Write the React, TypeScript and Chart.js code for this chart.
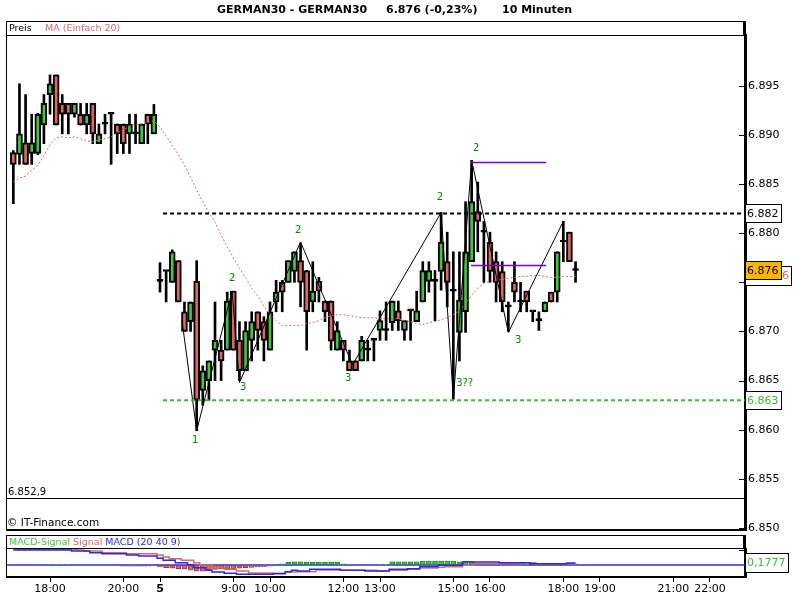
import React, { useEffect, useRef } from "react";
import { Chart, registerables } from "chart.js";

Chart.register(...registerables);

// ---------------- data (one entry per 10-minute bar; day 4 17:00 .. day 5 18:20) ----------------
const open = [
  6888.2, 6888.0, 6889.2, 6888.1, 6888.1, 6891.0,
  6894.1, 6896.1, 6893.2, 6893.2, 6892.1, 6892.1,
  6891.0, 6893.2, 6889.1, 6891.1, 6892.1, 6891.1,
  6891.1, 6890.1, 6890.1, 6889.1, 6892.1, 6890.1,
  6875.1, 6876.1, 6875.0, 6877.2, 6872.0, 6871.0,
  6875.1, 6864.0, 6865.0, 6868.1, 6868.1, 6868.1,
  6874.1, 6869.1, 6866.0, 6869.1, 6872.0, 6871.0,
  6868.1, 6873.0, 6875.0, 6875.0, 6876.1, 6877.2,
  6876.2, 6873.0, 6875.1, 6873.1, 6873.1, 6868.1,
  6869.1, 6867.0, 6867.0, 6867.0, 6868.1, 6869.1,
  6870.1, 6870.1, 6870.9, 6872.1, 6870.1, 6872.1,
  6871.0, 6873.0, 6875.1, 6875.1, 6876.1, 6877.1,
  6874.1, 6869.9, 6872.0, 6877.1, 6882.2, 6880.1,
  6879.1, 6877.1, 6876.1, 6872.5, 6875.0, 6873.0,
  6874.1, 6872.0, 6871.1, 6872.0, 6874.0, 6874.0,
  6879.1, 6880.1, 6876.2,
];
const high = [
  6888.4, 6895.2, 6894.1, 6892.1, 6892.2, 6894.1,
  6896.1, 6896.1, 6894.1, 6893.2, 6893.2, 6893.2,
  6893.2, 6893.2, 6891.1, 6892.1, 6892.1, 6891.1,
  6891.1, 6892.1, 6892.1, 6891.1, 6892.1, 6893.1,
  6877.0, 6876.1, 6878.3, 6877.2, 6873.0, 6873.0,
  6877.2, 6866.5, 6867.0, 6873.0, 6869.1, 6874.0,
  6874.1, 6871.0, 6871.0, 6872.0, 6872.0, 6871.5,
  6873.0, 6875.2, 6875.2, 6877.2, 6878.1, 6879.0,
  6876.2, 6877.1, 6875.5, 6873.1, 6873.1, 6871.0,
  6869.1, 6868.1, 6867.0, 6869.5, 6869.1, 6869.1,
  6872.1, 6873.0, 6873.1, 6873.1, 6871.1, 6872.1,
  6874.1, 6877.1, 6877.1, 6876.2, 6882.1, 6880.1,
  6878.1, 6878.1, 6883.2, 6887.4, 6885.2, 6881.2,
  6880.1, 6878.1, 6877.1, 6873.0, 6877.1, 6875.0,
  6874.1, 6872.0, 6872.0, 6873.0, 6874.0, 6878.1,
  6881.2, 6880.1, 6877.1,
];
const low = [
  6883.0, 6887.0, 6887.0, 6887.0, 6888.0, 6889.1,
  6892.1, 6891.0, 6890.1, 6890.1, 6891.8, 6891.0,
  6890.1, 6889.1, 6889.1, 6890.1, 6887.0, 6888.1,
  6888.1, 6888.1, 6889.1, 6889.1, 6889.1, 6890.1,
  6874.0, 6873.0, 6875.0, 6873.0, 6870.0, 6870.0,
  6859.9, 6862.5, 6863.0, 6865.0, 6865.0, 6868.1,
  6868.1, 6865.0, 6866.0, 6867.0, 6868.1, 6867.0,
  6868.1, 6872.0, 6872.0, 6875.0, 6875.0, 6872.5,
  6868.1, 6872.0, 6873.0, 6871.0, 6868.1, 6868.1,
  6867.0, 6866.0, 6866.0, 6867.0, 6867.0, 6867.0,
  6869.1, 6869.1, 6870.1, 6870.1, 6869.1, 6869.1,
  6871.0, 6873.0, 6874.0, 6871.1, 6874.2, 6872.5,
  6863.1, 6867.0, 6869.9, 6877.1, 6878.1, 6875.0,
  6875.0, 6873.0, 6872.0, 6870.0, 6873.0, 6872.0,
  6872.0, 6871.0, 6870.1, 6872.0, 6873.0, 6873.0,
  6877.1, 6877.1, 6875.0,
];
const close = [
  6887.0, 6890.1, 6887.0, 6889.2, 6892.1, 6893.2,
  6895.2, 6891.0, 6892.1, 6892.1, 6893.2, 6891.0,
  6892.1, 6890.1, 6890.1, 6891.1, 6892.1, 6890.1,
  6889.1, 6891.1, 6890.1, 6891.1, 6891.1, 6892.1,
  6875.1, 6876.1, 6878.1, 6873.0, 6870.0, 6873.0,
  6863.0, 6866.0, 6867.0, 6869.1, 6867.0, 6873.1,
  6868.1, 6866.0, 6870.1, 6871.0, 6870.1, 6869.1,
  6872.0, 6874.0, 6874.0, 6877.2, 6878.1, 6875.0,
  6872.0, 6874.1, 6874.1, 6872.0, 6869.0, 6870.1,
  6868.1, 6866.0, 6866.0, 6869.1, 6868.1, 6869.1,
  6871.1, 6870.1, 6873.1, 6871.1, 6871.1, 6872.1,
  6872.1, 6876.2, 6876.2, 6875.1, 6879.1, 6875.0,
  6874.1, 6873.2, 6878.1, 6883.2, 6881.2, 6880.1,
  6876.1, 6875.0, 6873.0, 6872.5, 6874.0, 6873.0,
  6873.0, 6872.0, 6871.1, 6873.0, 6873.0, 6878.1,
  6879.1, 6877.1, 6876.2,
];
const ma20 = [
  6885.2, 6885.6, 6885.8, 6886.4, 6886.9, 6887.9,
  6889.0, 6889.7, 6889.8, 6889.7, 6889.8, 6889.6,
  6889.4, 6889.3, 6889.5, 6889.6, 6889.8, 6890.2,
  6890.5, 6890.9, 6891.0, 6891.1, 6891.3, 6891.4,
  6890.8, 6889.9, 6888.9, 6888.0, 6886.9, 6885.7,
  6884.4, 6883.2, 6882.1, 6881.1, 6879.8, 6878.6,
  6877.5, 6876.4, 6875.5, 6874.4, 6873.6, 6872.6,
  6871.7, 6871.1, 6870.6, 6870.6, 6870.6, 6870.6,
  6870.8, 6870.9, 6871.1, 6871.4, 6871.6, 6871.7,
  6871.7, 6871.6, 6871.5, 6871.4, 6871.4, 6871.4,
  6871.3, 6871.3, 6871.3, 6871.3, 6871.1, 6871.0,
  6870.8, 6870.7, 6870.9, 6871.0, 6871.2, 6871.4,
  6871.7, 6872.1, 6872.8, 6873.7, 6874.4, 6874.9,
  6875.1, 6875.2, 6875.3, 6875.4, 6875.5, 6875.6,
  6875.6, 6875.7, 6875.7, 6875.6, 6875.5, 6875.5,
  6875.6, 6875.6, 6875.6,
];
const macdLine = [
  1.36, 1.36, 1.36, 1.36, 1.36, 1.36,
  1.36, 1.36, 1.36, 1.36, 1.27, 1.27,
  1.27, 1.12, 1.12, 1.03, 1.03, 1.03,
  1.03, 0.91, 0.91, 0.82, 0.82, 0.82,
  0.61, 0.43, 0.43, 0.21, 0.21, 0,
  -0.24, -0.24, -0.48, -0.64, -0.64, -0.76,
  -0.76, -0.85, -0.85, -0.85, -0.85, -0.85,
  -0.85, -0.79, -0.79, -0.61, -0.48, -0.55,
  -0.55, -0.39, -0.39, -0.39, -0.39, -0.39,
  -0.48, -0.48, -0.48, -0.48, -0.55, -0.55,
  -0.55, -0.55, -0.39, -0.39, -0.39, -0.33,
  -0.33, -0.15, -0.15, -0.15, -0.03, -0.03,
  -0.03, -0.03, 0.27, 0.27, 0.27, 0.27,
  0.27, 0.27, 0.21, 0.21, 0.21, 0.21,
  0.21, 0.12, 0.12, 0.12, 0.12, 0.12,
  0.12, 0.18, 0.18,
];
const signalLine = [
  1.43, 1.43, 1.43, 1.43, 1.43, 1.43,
  1.43, 1.43, 1.43, 1.43, 1.43, 1.36,
  1.27, 1.27, 1.27, 1.12, 1.12, 1.12,
  1.12, 1.03, 1.03, 1.03, 1.03, 1.03,
  0.91, 0.73, 0.57, 0.57, 0.43, 0.43,
  0.21, 0, 0, -0.24, -0.24, -0.39,
  -0.39, -0.55, -0.55, -0.73, -0.73, -0.73,
  -0.73, -0.76, -0.76, -0.64, -0.64, -0.61,
  -0.61, -0.61, -0.45, -0.45, -0.45, -0.45,
  -0.48, -0.48, -0.48, -0.48, -0.48, -0.48,
  -0.55, -0.55, -0.48, -0.48, -0.48, -0.39,
  -0.39, -0.27, -0.27, -0.27, -0.21, -0.15,
  -0.15, -0.15, -0.03, -0.03, 0.12, 0.12,
  0.12, 0.12, 0.12, 0.12, 0.12, 0.12,
  0.21, 0.21, 0.12, 0.12, 0.12, 0.12,
  0.12, 0.12, 0.12,
];
const macdHist = [
  0, 0, 0, 0, 0, 0,
  0.07, 0.07, 0.07, 0.07, 0, 0,
  0, 0, 0, 0, 0, 0,
  -0.11, -0.11, -0.11, -0.11, -0.11, 0,
  -0.18, -0.25, -0.29, -0.33, -0.36, -0.47,
  -0.55, -0.55, -0.47, -0.4, -0.36, -0.36,
  -0.33, -0.29, -0.25, -0.22, -0.18, -0.15,
  -0.11, 0, 0.11, 0.25, 0.29, 0.29,
  0.27, 0.27, 0.27, 0.27, 0.27, 0.27,
  0.11, 0, 0, 0, 0, 0,
  0.07, 0.07, 0.29, 0.29, 0.29, 0.29,
  0.29, 0.36, 0.36, 0.36, 0.36, 0.36,
  0.36, 0.29, 0.36, 0.33, 0.18, 0.18,
  0.18, 0.18, 0.18, 0.18, 0.18, 0.11,
  0.11, 0.11, 0.11, 0.11, 0.11, 0.11,
  0.11, 0.11, 0.11,
];

const priceTicks = [6850, 6855, 6860, 6865, 6870, 6875, 6880, 6885, 6890, 6895];
const timeTickSlots = [6, 18, 24, 36, 42, 54, 60, 72, 78, 90, 96, 108, 114];
const timeTickLabels = ["18:00", "20:00", "5", "9:00", "10:00", "12:00", "13:00", "15:00", "16:00", "18:00", "19:00", "21:00", "22:00"];
const dayBreakLabel = "5";

const zigzagSlots = [27.6, 30, 35.8, 37, 47, 55.5, 70, 72, 75, 81, 90];
const zigzagPrices = [6871.1, 6859.9, 6874.1, 6864.8, 6879.1, 6866.6, 6882.1, 6863.1, 6887.4, 6869.9, 6881.2];

const waveLabelTexts = ["1", "2", "3", "2", "3", "2", "3??", "2", "3"];
const waveLabelSlots = [29.74, 35.79, 37.59, 46.6, 54.78, 69.8, 73.85, 75.73, 82.6];
const waveLabelPrices = [6858.96, 6875.44, 6864.35, 6880.32, 6865.27, 6883.67, 6864.76, 6888.66, 6869.13];

const resistanceLevel = 6882;
const supportLevel = 6863;
const levelStartSlot = 24.5;
const purpleLevels = [6887.2, 6876.7];
const purpleFromSlot = 74.9;
const purpleToSlot = 87.2;

const macdValueLabel = "0,1777";
const macdValue = 0.1777;
const minPriceLabel = "6.852,9";
const titleSymbol = "GERMAN30 - GERMAN30";
const titleQuote = "6.876 (-0,23%)";
const titlePeriod = "10 Minuten";

// ---------------- layout / style ----------------
const X_MIN = -1.04;
const X_MAX = 119.73;
const Y_MIN = 6849.8;
const Y_MAX = 6900.16;
const MACD_MIN = -1.09;
const MACD_MAX = 1.455;
const FONT = "'DejaVu Sans', Verdana, sans-serif";
const GREEN = "#42c642";
const RED = "#e06666";
const BLUE = "#2a2ae0";
const ORANGE = "#ffb400";
const LEVEL_GREEN = "#38b838";
const WAVE_GREEN = "#008800";

function fmtPrice(v: number): string {
  const s = String(Math.round(v));
  return s.slice(0, s.length - 3) + "." + s.slice(s.length - 3);
}

function drawBox(ctx: CanvasRenderingContext2D, left: number, yc: number, w: number, h: number,
  fill: string, color: string, text: string, align: "left" | "right") {
  const top = Math.round(yc - h / 2);
  ctx.fillStyle = fill;
  ctx.fillRect(left, top, w, h);
  ctx.strokeStyle = "#000";
  ctx.lineWidth = 1;
  ctx.strokeRect(left + 0.5, top + 0.5, w - 1, h - 1);
  ctx.fillStyle = color;
  ctx.font = "11px " + FONT;
  ctx.textBaseline = "middle";
  ctx.textAlign = align;
  ctx.fillText(text, align === "left" ? left + 2 : left + w - 3, top + h / 2 + 0.5);
}

const idx = close.map((_, i) => i);

const mainDecor = {
  id: "mainDecor",
  afterDraw(chart: any) {
    const { ctx } = chart;
    const x = chart.scales.x;
    const y = chart.scales.y;
    ctx.save();
    ctx.fillStyle = "#000";
    ctx.fillRect(6, 21, 740, 1);
    ctx.fillRect(6, 35, 740, 1);
    ctx.fillRect(6, 21, 1, 510);
    ctx.fillRect(6, 498, 740, 1);
    ctx.fillRect(6, 529, 740, 2);
    ctx.fillRect(743, 21, 3, 15);
    priceTicks.forEach((v) => {
      const p = Math.round(y.getPixelForValue(v));
      ctx.fillRect(739, p, 6, 1);
    });
    ctx.font = "10px " + FONT;
    ctx.fillStyle = WAVE_GREEN;
    ctx.textAlign = "center";
    ctx.textBaseline = "middle";
    waveLabelTexts.forEach((t, i) => {
      ctx.fillText(t, x.getPixelForValue(waveLabelSlots[i]), y.getPixelForValue(waveLabelPrices[i]));
    });
    drawBox(ctx, 745, y.getPixelForValue(resistanceLevel), 37, 19, "#fff", "#000", fmtPrice(resistanceLevel), "left");
    drawBox(ctx, 745, y.getPixelForValue(supportLevel), 37, 19, "#fff", LEVEL_GREEN, fmtPrice(supportLevel), "left");
    const maLast = ma20[ma20.length - 1];
    drawBox(ctx, 745, y.getPixelForValue(maLast), 47, 20, "#fff", RED, fmtPrice(maLast), "right");
    const cLast = close[close.length - 1];
    drawBox(ctx, 745, y.getPixelForValue(cLast), 37, 19, ORANGE, "#000", fmtPrice(cLast), "left");
    ctx.restore();
  },
};

const macdDecor = {
  id: "macdDecor",
  beforeDatasetsDraw(chart: any) {
    const { ctx, chartArea } = chart;
    const y = chart.scales.y;
    const p = y.getPixelForValue(0);
    ctx.save();
    ctx.strokeStyle = BLUE;
    ctx.lineWidth = 1.5;
    ctx.beginPath();
    ctx.moveTo(chartArea.left, p);
    ctx.lineTo(chartArea.right, p);
    ctx.stroke();
    ctx.restore();
  },
  afterDraw(chart: any) {
    const { ctx } = chart;
    const y = chart.scales.y;
    ctx.save();
    ctx.fillStyle = "#000";
    ctx.fillRect(6, 3, 740, 1);
    ctx.fillRect(6, 16, 740, 1);
    ctx.fillRect(6, 3, 1, 43);
    ctx.fillRect(743, 3, 3, 14);
    ctx.fillRect(739, 18, 6, 1);
    drawBox(ctx, 745, y.getPixelForValue(macdValue), 44, 20, "#fff", LEVEL_GREEN, macdValueLabel, "left");
    ctx.restore();
  },
};

function zeroPad(scale: any) {
  scale.paddingTop = 0;
  scale.paddingBottom = 0;
  scale.paddingLeft = 0;
  scale.paddingRight = 0;
}

function mainConfig(): any {
  return {
    type: "bar",
    data: {
      datasets: [
        {
          type: "bar",
          data: idx.map((i) => ({ x: i, y: [low[i], high[i]] })),
          backgroundColor: "#000",
          barThickness: 2,
          grouped: false,
          order: 10,
        },
        {
          type: "bar",
          data: idx.map((i) => ({ x: i, y: [open[i], close[i]] })),
          backgroundColor: idx.map((i) => (close[i] > open[i] ? GREEN : close[i] < open[i] ? RED : "#000")),
          borderColor: "#000",
          borderWidth: 2,
          borderSkipped: false,
          barThickness: 6,
          minBarLength: 2,
          grouped: false,
          order: 9,
        },
        {
          type: "line",
          data: idx.map((i) => ({ x: i, y: ma20[i] })),
          borderColor: RED,
          borderWidth: 1,
          borderDash: [2, 2],
          pointRadius: 0,
          order: 8,
        },
        {
          type: "line",
          data: zigzagSlots.map((s, i) => ({ x: s, y: zigzagPrices[i] })),
          borderColor: "#000",
          borderWidth: 1,
          pointRadius: 0,
          order: 7,
        },
        ...purpleLevels.map((lv) => ({
          type: "line",
          data: [{ x: purpleFromSlot, y: lv }, { x: purpleToSlot, y: lv }],
          borderColor: "#8000c8",
          borderWidth: 1.5,
          pointRadius: 0,
          order: 6,
        })),
        {
          type: "line",
          data: [{ x: levelStartSlot, y: resistanceLevel }, { x: X_MAX, y: resistanceLevel }],
          borderColor: "#000",
          borderWidth: 2,
          borderDash: [4, 3],
          pointRadius: 0,
          order: 5,
        },
        {
          type: "line",
          data: [{ x: levelStartSlot, y: supportLevel }, { x: X_MAX, y: supportLevel }],
          borderColor: LEVEL_GREEN,
          borderWidth: 2,
          borderDash: [4, 3],
          pointRadius: 0,
          order: 5,
        },
      ],
    },
    options: {
      animation: false,
      responsive: false,
      maintainAspectRatio: false,
      devicePixelRatio: 1,
      events: [],
      layout: { padding: { top: 35, left: 7, right: 0, bottom: 2 } },
      plugins: { legend: { display: false }, tooltip: { enabled: false }, title: { display: false } },
      scales: {
        x: { type: "linear", display: false, min: X_MIN, max: X_MAX, offset: false, grid: { offset: false } },
        y: {
          type: "linear",
          position: "right",
          min: Y_MIN,
          max: Y_MAX,
          afterBuildTicks: (s: any) => { s.ticks = priceTicks.map((v) => ({ value: v })); },
          afterFit: (s: any) => { s.width = 55; zeroPad(s); },
          ticks: {
            callback: (v: number) => fmtPrice(v),
            color: "#000",
            padding: 3,
            font: { family: FONT, size: 11 },
          },
          grid: { display: true, drawOnChartArea: false, drawTicks: false },
          border: { display: true, color: "#000", width: 3 },
        },
      },
    },
    plugins: [mainDecor],
  };
}

function macdConfig(): any {
  return {
    type: "bar",
    data: {
      datasets: [
        {
          type: "line",
          data: idx.map((i) => ({ x: i, y: macdLine[i] })),
          borderColor: BLUE,
          borderWidth: 1.5,
          stepped: "middle",
          pointRadius: 0,
          order: 1,
        },
        {
          type: "line",
          data: idx.map((i) => ({ x: i, y: signalLine[i] })),
          borderColor: RED,
          borderWidth: 1.5,
          stepped: "middle",
          pointRadius: 0,
          order: 2,
        },
        {
          type: "bar",
          data: idx.map((i) => ({ x: i, y: macdHist[i] })),
          backgroundColor: idx.map((i) => (macdHist[i] >= 0 ? "#44c844" : RED)),
          borderColor: idx.map((i) => (macdHist[i] >= 0 ? "#1a8a1a" : "#a83232")),
          borderWidth: 1,
          borderSkipped: false,
          barThickness: 5,
          grouped: false,
          order: 3,
        },
      ],
    },
    options: {
      animation: false,
      responsive: false,
      maintainAspectRatio: false,
      devicePixelRatio: 1,
      events: [],
      layout: { padding: { top: 17, left: 7, right: 0, bottom: 0 } },
      plugins: { legend: { display: false }, tooltip: { enabled: false }, title: { display: false } },
      scales: {
        x: {
          type: "linear",
          min: X_MIN,
          max: X_MAX,
          offset: false,
          afterBuildTicks: (s: any) => { s.ticks = timeTickSlots.map((v) => ({ value: v })); },
          afterFit: (s: any) => { s.height = 23; zeroPad(s); },
          ticks: {
            autoSkip: false,
            maxRotation: 0,
            minRotation: 0,
            padding: 1,
            color: "#000",
            callback: (_v: number, i: number) => timeTickLabels[i],
            font: (c: any) => ({
              family: FONT,
              size: 11,
              weight: timeTickLabels[c.index] === dayBreakLabel ? "bold" : "normal",
            }),
          },
          grid: { display: true, offset: false, drawOnChartArea: false, drawTicks: true, tickLength: 5, color: "#000", lineWidth: 1 },
          border: { display: true, color: "#000", width: 2 },
        },
        y: {
          type: "linear",
          position: "right",
          min: MACD_MIN,
          max: MACD_MAX,
          afterFit: (s: any) => { s.width = 55; zeroPad(s); },
          ticks: { display: false },
          grid: { display: true, drawOnChartArea: false, drawTicks: false },
          border: { display: true, color: "#000", width: 3 },
        },
      },
    },
    plugins: [macdDecor],
  };
}

const textBase: React.CSSProperties = {
  position: "absolute",
  fontFamily: FONT,
  whiteSpace: "pre",
  lineHeight: "12px",
  margin: 0,
};

export default function App() {
  const mainRef = useRef<HTMLCanvasElement>(null);
  const macdRef = useRef<HTMLCanvasElement>(null);

  useEffect(() => {
    const main = new Chart(mainRef.current as HTMLCanvasElement, mainConfig());
    const macd = new Chart(macdRef.current as HTMLCanvasElement, macdConfig());
    return () => {
      main.destroy();
      macd.destroy();
    };
  }, []);

  return (
    <div style={{ position: "fixed", left: 0, top: 0, width: 800, height: 600, background: "#fff", overflow: "hidden" }}>
      <canvas ref={mainRef} width={800} height={532} style={{ position: "absolute", left: 0, top: 0, width: 800, height: 532 }} />
      <canvas ref={macdRef} width={800} height={68} style={{ position: "absolute", left: 0, top: 532, width: 800, height: 68 }} />
      <div style={{ ...textBase, left: 217, top: 4, fontSize: 11, fontWeight: "bold" }}>{titleSymbol}</div>
      <div style={{ ...textBase, left: 386, top: 4, fontSize: 11, fontWeight: "bold" }}>{titleQuote}</div>
      <div style={{ ...textBase, left: 502, top: 4, fontSize: 11, fontWeight: "bold" }}>{titlePeriod}</div>
      <div style={{ ...textBase, left: 9, top: 22, fontSize: 9.5, color: "#000" }}>Preis</div>
      <div style={{ ...textBase, left: 45, top: 22, fontSize: 9.5, color: RED }}>MA (Einfach 20)</div>
      <div style={{ ...textBase, left: 8, top: 486, fontSize: 10, color: "#000" }}>{minPriceLabel}</div>
      <div style={{ ...textBase, left: 7, top: 516, fontSize: 10.5, color: "#000" }}>© IT-Finance.com</div>
      <div style={{ ...textBase, left: 9, top: 536, fontSize: 9.5 }}>
        <span style={{ color: "#3cc83c" }}>MACD-Signal</span>
        <span style={{ color: RED }}> Signal</span>
        <span style={{ color: BLUE }}> MACD (20 40 9)</span>
      </div>
    </div>
  );
}
